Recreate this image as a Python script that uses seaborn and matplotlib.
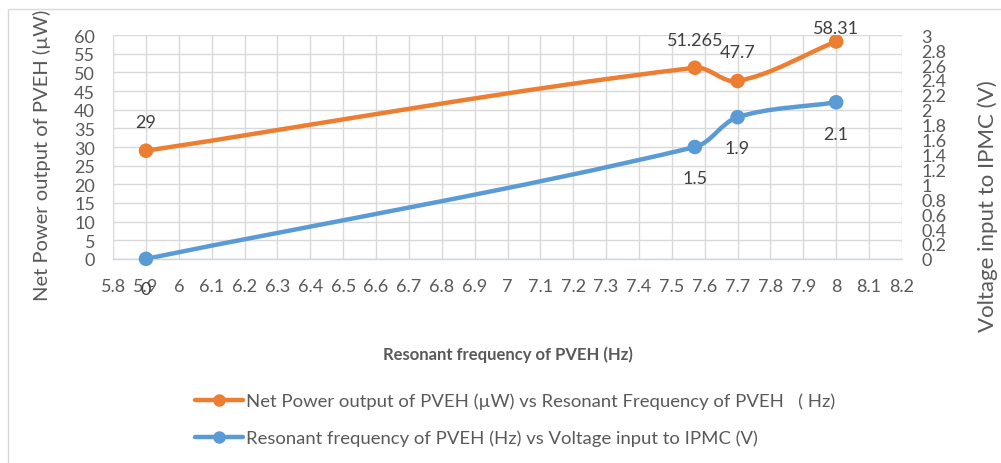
import numpy as np
import matplotlib
matplotlib.use("Agg")
import matplotlib.pyplot as plt
from matplotlib.path import Path
from matplotlib.patches import PathPatch, Rectangle
from matplotlib.lines import Line2D
import seaborn as sns

# ---- data ----
freq = [5.9, 7.57, 7.7, 8.0]
power = [29, 51.265, 47.7, 58.31]
voltage = [0, 1.5, 1.9, 2.1]
power_labels = ["29", "51.265", "47.7", "58.31"]
voltage_labels = ["0", "1.5", "1.9", "2.1"]
x_ticks = [round(5.8 + 0.1 * i, 1) for i in range(25)]
left_ticks = list(range(0, 65, 5))
right_ticks = [round(0.2 * i, 1) for i in range(16)]

series1_name = "Net Power output of PVEH (\u00b5W) vs Resonant Frequency of PVEH   ( Hz)"
series2_name = "Resonant frequency of PVEH (Hz) vs Voltage input to IPMC (V)"

ORANGE = "#ED7D31"
BLUE = "#5B9BD5"
TXT = "#595959"
LBL = "#404040"
GRID = "#D9D9D9"

sns.set_style("white")
plt.rcParams["font.family"] = ["Lato", "DejaVu Sans"]

fig = plt.figure(figsize=(10.01, 4.64), dpi=100)
ax = fig.add_axes([0.113, 0.44, 0.788, 0.482])
ax2 = ax.twinx()
ax.set_xlim(5.8, 8.2)
ax.set_ylim(0, 60)
ax2.set_ylim(0, 3)


def smooth_path(a, xs, ys):
    """Smoothed (Bezier) line through the data points, built in display space."""
    pts = a.transData.transform(np.column_stack([xs, ys]).astype(float))
    n = len(pts)
    tang = []
    for i in range(n):
        prev = pts[i - 1] if i > 0 else pts[i]
        nxt = pts[i + 1] if i < n - 1 else pts[i]
        d = nxt - prev
        tang.append(d / np.hypot(*d))
    verts = [pts[0]]
    codes = [Path.MOVETO]
    for i in range(n - 1):
        p1, p2 = pts[i], pts[i + 1]
        L = np.hypot(*(p2 - p1)) / 3.0
        verts += [p1 + tang[i] * L, p2 - tang[i + 1] * L, p2]
        codes += [Path.CURVE4] * 3
    verts = a.transData.inverted().transform(np.array(verts))
    return Path(verts, codes)


ax.add_patch(PathPatch(smooth_path(ax, freq, power), fill=False, edgecolor=ORANGE,
                       lw=3.2, capstyle="round", zorder=3))
ax2.add_patch(PathPatch(smooth_path(ax2, freq, voltage), fill=False, edgecolor=BLUE,
                        lw=3.2, capstyle="round", zorder=3))
sns.scatterplot(x=freq, y=power, ax=ax, color=ORANGE, s=110, edgecolor="none", zorder=4)
sns.scatterplot(x=freq, y=voltage, ax=ax2, color=BLUE, s=110, edgecolor="none", zorder=4,
                clip_on=False)

# data labels
p_off = [21, 20, 21, 10]
for x, y, t, o in zip(freq, power, power_labels, p_off):
    ax.annotate(t, (x, y), xytext=(0, o), textcoords="offset points", ha="center",
                va="center", fontsize=13, color=LBL)
v_off = [-22, -22, -22, -23]
for x, y, t, o in zip(freq, voltage, voltage_labels, v_off):
    ax2.annotate(t, (x, y), xytext=(0, o), textcoords="offset points", ha="center",
                 va="center", fontsize=13, color=LBL)

# ticks and grid
ax.set_xticks(x_ticks)
ax.set_xticklabels([f"{v:g}" for v in x_ticks])
ax.set_xticks(np.arange(5.8, 8.2001, 0.02), minor=True)
ax.set_yticks(left_ticks)
ax.set_yticklabels([str(v) for v in left_ticks])
ax2.set_yticks(right_ticks)
ax2.set_yticklabels([f"{v:g}" for v in right_ticks])

ax.grid(True, color=GRID, lw=1)
ax.set_axisbelow(True)
for a in (ax, ax2):
    for s in a.spines.values():
        s.set_visible(False)
ax.spines["bottom"].set_visible(True)
ax.spines["bottom"].set_color("#C9D6E6")
ax.spines["bottom"].set_linewidth(1)

ax.tick_params(axis="x", which="major", length=0, pad=14, labelsize=13, labelcolor=TXT)
ax.tick_params(axis="x", which="minor", length=6, direction="inout", color="#C9D6E6", width=1)
ax.tick_params(axis="y", length=0, pad=13, labelsize=13, labelcolor=TXT)
ax2.tick_params(axis="y", length=0, pad=14, labelsize=13, labelcolor=TXT)

ax.set_xlabel("Resonant frequency of PVEH (Hz)", fontsize=12, fontweight="bold",
              color=TXT, labelpad=37)
ax.set_ylabel("Net Power output of PVEH (\u00b5W)", fontsize=14.5, color=TXT)
ax2.set_ylabel("Voltage input to IPMC (V)", fontsize=16, color=TXT)
for a, xc, yc in ((ax, -0.090, 0.469), (ax2, 1.109, 0.241)):
    lab = a.yaxis.label
    a.yaxis.set_label_coords(xc, yc)
    lab.set_rotation(90)
    lab.set_rotation_mode("default")
    lab.set_ha("center")
    lab.set_va("center")

handles = [
    Line2D([0], [0], color=ORANGE, lw=3.2, marker="o", markersize=8),
    Line2D([0], [0], color=BLUE, lw=3.2, marker="o", markersize=8),
]
fig.legend(handles, [series1_name, series2_name], loc="center left",
           bbox_to_anchor=(0.1948, 0.094), ncol=1, frameon=False, fontsize=13.3,
           labelcolor=TXT, handlelength=2.6, handletextpad=0.15, labelspacing=1.1,
           borderpad=0, borderaxespad=0)

fig.add_artist(Rectangle((8 / 1001, -0.01), 1.05, 1 - 10 / 464 + 0.01,
                         transform=fig.transFigure, fill=False,
                         edgecolor="#D9D9D9", lw=1))

fig.savefig("out.png", dpi=100)
